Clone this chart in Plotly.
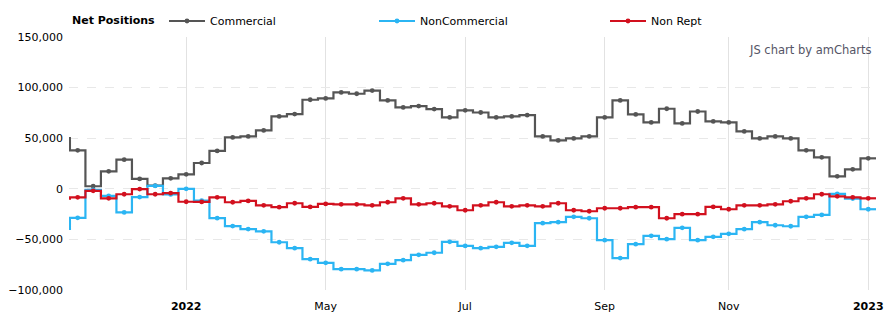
import plotly.graph_objects as go

# Weekly report index (-1 is the partially visible report at the left edge)
week_idx = list(range(-1, 52))

commercial = [50000, 38000, 2500, 17300, 28800, 9800, 3200, 10400, 14300, 25500,
              37400, 50800, 51800, 57700, 71500, 73800, 88000, 89300, 95200, 93900,
              97100, 87300, 80400, 81700, 78800, 70500, 77500, 75400, 70500, 71500,
              72800, 51800, 47800, 49800, 51800, 70500, 87300, 73500, 65600, 79100,
              64600, 76400, 66600, 65600, 56700, 49800, 51800, 49800, 38000, 31100,
              12300, 19200, 30100]

noncommercial = [-39600, -28700, -1000, -7000, -23300, -8200, 2800, -5600, 0, -11600,
                 -29000, -36800, -39800, -42000, -52800, -58700, -69500, -73100, -79400, -79400,
                 -80700, -74100, -70500, -65200, -63200, -52400, -56400, -58700, -57300, -53400,
                 -56300, -34000, -33000, -27700, -29100, -50800, -68500, -54700, -46500, -49800,
                 -38600, -50800, -47500, -44500, -39900, -33000, -36000, -37000, -27700, -25800,
                 -5000, -9700, -20200]

nonrept = [-9700, -8400, -2000, -9400, -5400, -300, -5400, -4200, -12800, -13000,
           -8400, -13300, -12000, -16300, -18200, -14300, -17900, -14900, -15300, -15300,
           -16300, -13300, -9400, -15300, -14300, -17300, -21200, -16300, -13300, -17300,
           -16300, -17300, -14300, -21200, -22200, -19200, -19200, -18200, -18200, -29100,
           -25100, -25100, -17900, -20200, -16300, -16300, -15300, -12300, -9400, -5400,
           -7400, -8400, -9400]

tick_idx = [7, 16, 25, 34, 42, 51]
tick_text = ["<b>2022</b>", "May", "Jul", "Sep", "Nov", "<b>2023</b>"]
y_ticks = [-100000, -50000, 0, 50000, 100000, 150000]

series = [
    ("Commercial", commercial, "#555555", "legend", 172),
    ("NonCommercial", noncommercial, "#2BB5F3", "legend2", 382),
    ("Non Rept", nonrept, "#D2101E", "legend3", 613),
]

W, H = 890, 325
ML, MR, MT, MB = 68.5, 14, 37, 34.5
PW, PH = W - ML - MR, H - MT - MB


def px_to_paper(px, py):
    return (px - ML) / PW, (H - MB - py) / PH


fig = go.Figure()
layout_legends = {}
for name, vals, color, leg, lx in series:
    fig.add_trace(go.Scatter(
        x=week_idx, y=vals, name=name, mode="lines+markers",
        line=dict(color=color, width=2.2, shape="hvh"),
        marker=dict(color=color, size=4.8),
        legend=leg, showlegend=True,
    ))
    # extend last step half a cell to the right edge
    last = week_idx[-1]
    fig.add_trace(go.Scatter(
        x=[last, last + 0.5], y=[vals[-1], vals[-1]], mode="lines",
        line=dict(color=color, width=2.2), showlegend=False, hoverinfo="skip",
    ))
    layout_legends[leg] = dict(
        x=(lx - 8) / W, xref="container", xanchor="left",
        y=1 - 21 / H, yref="container", yanchor="middle",
        orientation="h", bgcolor="rgba(0,0,0,0)",
        font=dict(family="DejaVu Sans, Verdana, sans-serif", size=11, color="#000"),
        itemwidth=36,
    )

ax1, ay1 = px_to_paper(70, 20)
ax2, ay2 = px_to_paper(874, 50)

fig.update_layout(
    width=W, height=H,
    margin=dict(l=ML, r=MR, t=MT, b=MB, autoexpand=False),
    paper_bgcolor="white", plot_bgcolor="white",
    font=dict(family="DejaVu Sans, Verdana, sans-serif", size=11, color="#000"),
    xaxis=dict(
        range=[-0.56, 51.5], tickmode="array", tickvals=tick_idx, ticktext=tick_text,
        showgrid=True, gridcolor="#e2e2e2", gridwidth=1, zeroline=False,
        showline=False, ticks="outside", ticklen=6, tickcolor="rgba(0,0,0,0)",
        tickfont=dict(size=11, color="#000"),
    ),
    yaxis=dict(
        range=[-100000, 150000], tickvals=y_ticks, tickformat=",d",
        showgrid=True, gridcolor="#e8e8e8", griddash="dash", gridwidth=1,
        zeroline=False, showline=False, ticks="", ticklabelstandoff=5,
        tickfont=dict(size=11, color="#000"),
    ),
    annotations=[
        dict(text="<b>Net Positions</b>", x=ax1, xref="paper",
             y=ay1, yref="paper", xanchor="left", yanchor="middle",
             showarrow=False, font=dict(size=11, color="#000")),
        dict(text="JS chart by amCharts", x=ax2, xref="paper",
             y=ay2, yref="paper", xanchor="right", yanchor="middle",
             showarrow=False, font=dict(size=11.5, color="#555566")),
    ],
    **layout_legends,
)

fig.write_html("out.html")
